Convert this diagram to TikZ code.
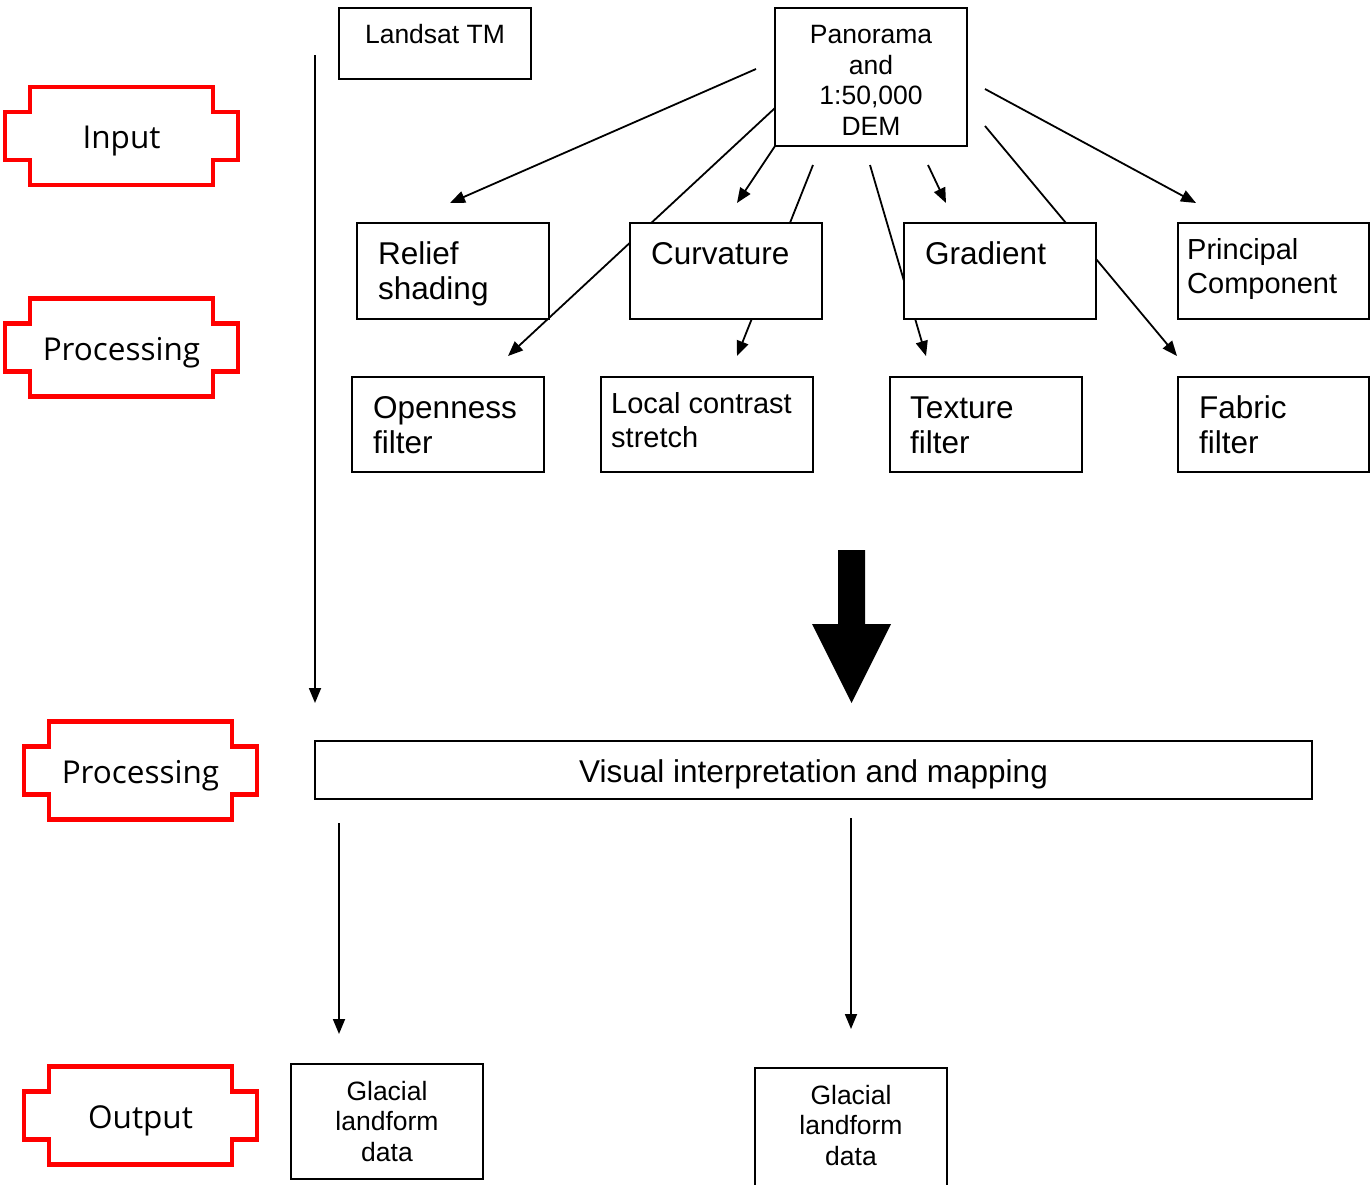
\documentclass[tikz,border=0pt]{standalone}
\usepackage{fontspec}
\setmainfont{Liberation Sans}
\newfontfamily\stagefont{Open Sans}
\usetikzlibrary{arrows.meta,backgrounds}

\tikzset{
  box/.style={draw,line width=1.8pt,fill=white,inner sep=0pt},
  smalltext/.style={font=\fontsize{26.5}{30.5}\selectfont,inner sep=0pt,align=center},
  midtext/.style={font=\fontsize{29}{34}\selectfont,inner sep=0pt,align=left,anchor=base west},
  bigtext/.style={font=\fontsize{31.5}{35.5}\selectfont,inner sep=0pt,align=left,anchor=base west},
  stagetext/.style={font=\stagefont\fontsize{31.5}{34}\selectfont,inner sep=0pt},
  stage/.style={draw=red,line width=4.5pt},
  arr/.style={line width=1.8pt,-{Triangle[length=15pt,width=12pt]}},
}

\begin{document}
\begin{tikzpicture}[x=1pt,y=-1pt]

  \useasboundingbox (0,0) rectangle (1370,1184);

  % stages on the left
  \foreach \n/\x/\y/\t in {in/121.5/136/Input, proc/121.5/347.5/Processing,
                          map/140.5/770.5/Processing, out/140.5/1115.5/Output} {
    \coordinate (sc-\n) at (\x,\y);
    \node[stagetext] (st-\n) at ([yshift=-5pt]sc-\n) {\t};
    \draw[stage] ([shift={(-91.5,-49)}]sc-\n) --++(183,0) --++(0,25) --++(25,0)
      --++(0,48) --++(-25,0) --++(0,25) --++(-183,0) --++(0,-25) --++(-25,0)
      --++(0,-48) --++(25,0) -- cycle;
  }

  % input
  \node[box,minimum width=192pt,minimum height=71pt] (landsat) at (435,43.5) {};
  \node[smalltext] (landsat-t) at (435,34) {Landsat TM};
  \node[box,minimum width=192pt,minimum height=138pt] (pan) at (871,77) {};
  \node[smalltext] (pan-t) at (871,80.5) {Panorama\\and\\1:50,000\\DEM};

  % processing
  \node[box,minimum width=192pt,minimum height=96pt] (relief) at (453,271) {};
  \node[box,minimum width=192pt,minimum height=96pt] (curv) at (726,271) {};
  \node[box,minimum width=192pt,minimum height=96pt] (grad) at (1000,271) {};
  \node[box,minimum width=191pt,minimum height=96pt] (pca) at (1273.5,271) {};
  \node[box,minimum width=192pt,minimum height=95pt] (open) at (448,424.5) {};
  \node[box,minimum width=212pt,minimum height=95pt] (lcs) at (707,424.5) {};
  \node[box,minimum width=192pt,minimum height=95pt] (tex) at (986,424.5) {};
  \node[box,minimum width=191pt,minimum height=95pt] (fab) at (1273.5,424.5) {};

  \node[bigtext] (relief-t) at (378,299.5) {Relief\\shading};
  \node[bigtext] (curv-t) at (651,264) {Curvature};
  \node[bigtext] (grad-t) at (925,264) {Gradient};
  \node[midtext] (pca-t) at (1187,293.5) {Principal\\Component};
  \node[bigtext] (open-t) at (373,453.5) {Openness\\filter};
  \node[midtext] (lcs-t) at (611,447.5) {Local contrast\\stretch};
  \node[bigtext] (tex-t) at (910,453.5) {Texture\\filter};
  \node[bigtext] (fab-t) at (1199,453.5) {Fabric\\filter};

  \node[box,minimum width=997pt,minimum height=58pt] (vis) at (813.5,770) {};
  \node[bigtext,anchor=base] (vis-t) at (813.5,782) {Visual interpretation and mapping};

  % output
  \node[box,minimum width=192pt,minimum height=115pt] (gl1) at (387,1121.5) {};
  \node[smalltext] (gl1-t) at (387,1121.5) {Glacial\\landform\\data};
  \node[box,minimum width=192pt,minimum height=122pt] (gl2) at (851,1129) {};
  \node[smalltext] (gl2-t) at (851,1125.5) {Glacial\\landform\\data};

  % free ends of the connectors
  \coordinate (a0) at (756,69);   \coordinate (a1) at (450,203);
  \coordinate (b0) at (775,108);  \coordinate (b1) at (508,356);
  \coordinate (c0) at (775,146);  \coordinate (c1) at (737,203);
  \coordinate (d0) at (813,165);  \coordinate (d1) at (737,356);
  \coordinate (e0) at (870,165);  \coordinate (e1) at (926,356);
  \coordinate (f0) at (928,165);  \coordinate (f1) at (946,203);
  \coordinate (g0) at (985,126);  \coordinate (g1) at (1177,356);
  \coordinate (h0) at (985,89);   \coordinate (h1) at (1196,203);
  \coordinate (l0) at (315,55);   \coordinate (l1) at (315,703);
  \coordinate (o0) at (339,823);  \coordinate (o1) at (339,1034);
  \coordinate (p0) at (851,818);  \coordinate (p1) at (851,1029);

  \begin{pgfonlayer}{background}
    \foreach \s in {a,b,c,d,e,f,g,h,l,o,p}
      \draw[arr] (\s0) -- (\s1);
  \end{pgfonlayer}

  % big arrow into the mapping step
  \fill (838,550) -- (865,550) -- (865,624) -- (891,624) -- (851.5,703)
    -- (812,624) -- (838,624) -- cycle;

\end{tikzpicture}
\end{document}
